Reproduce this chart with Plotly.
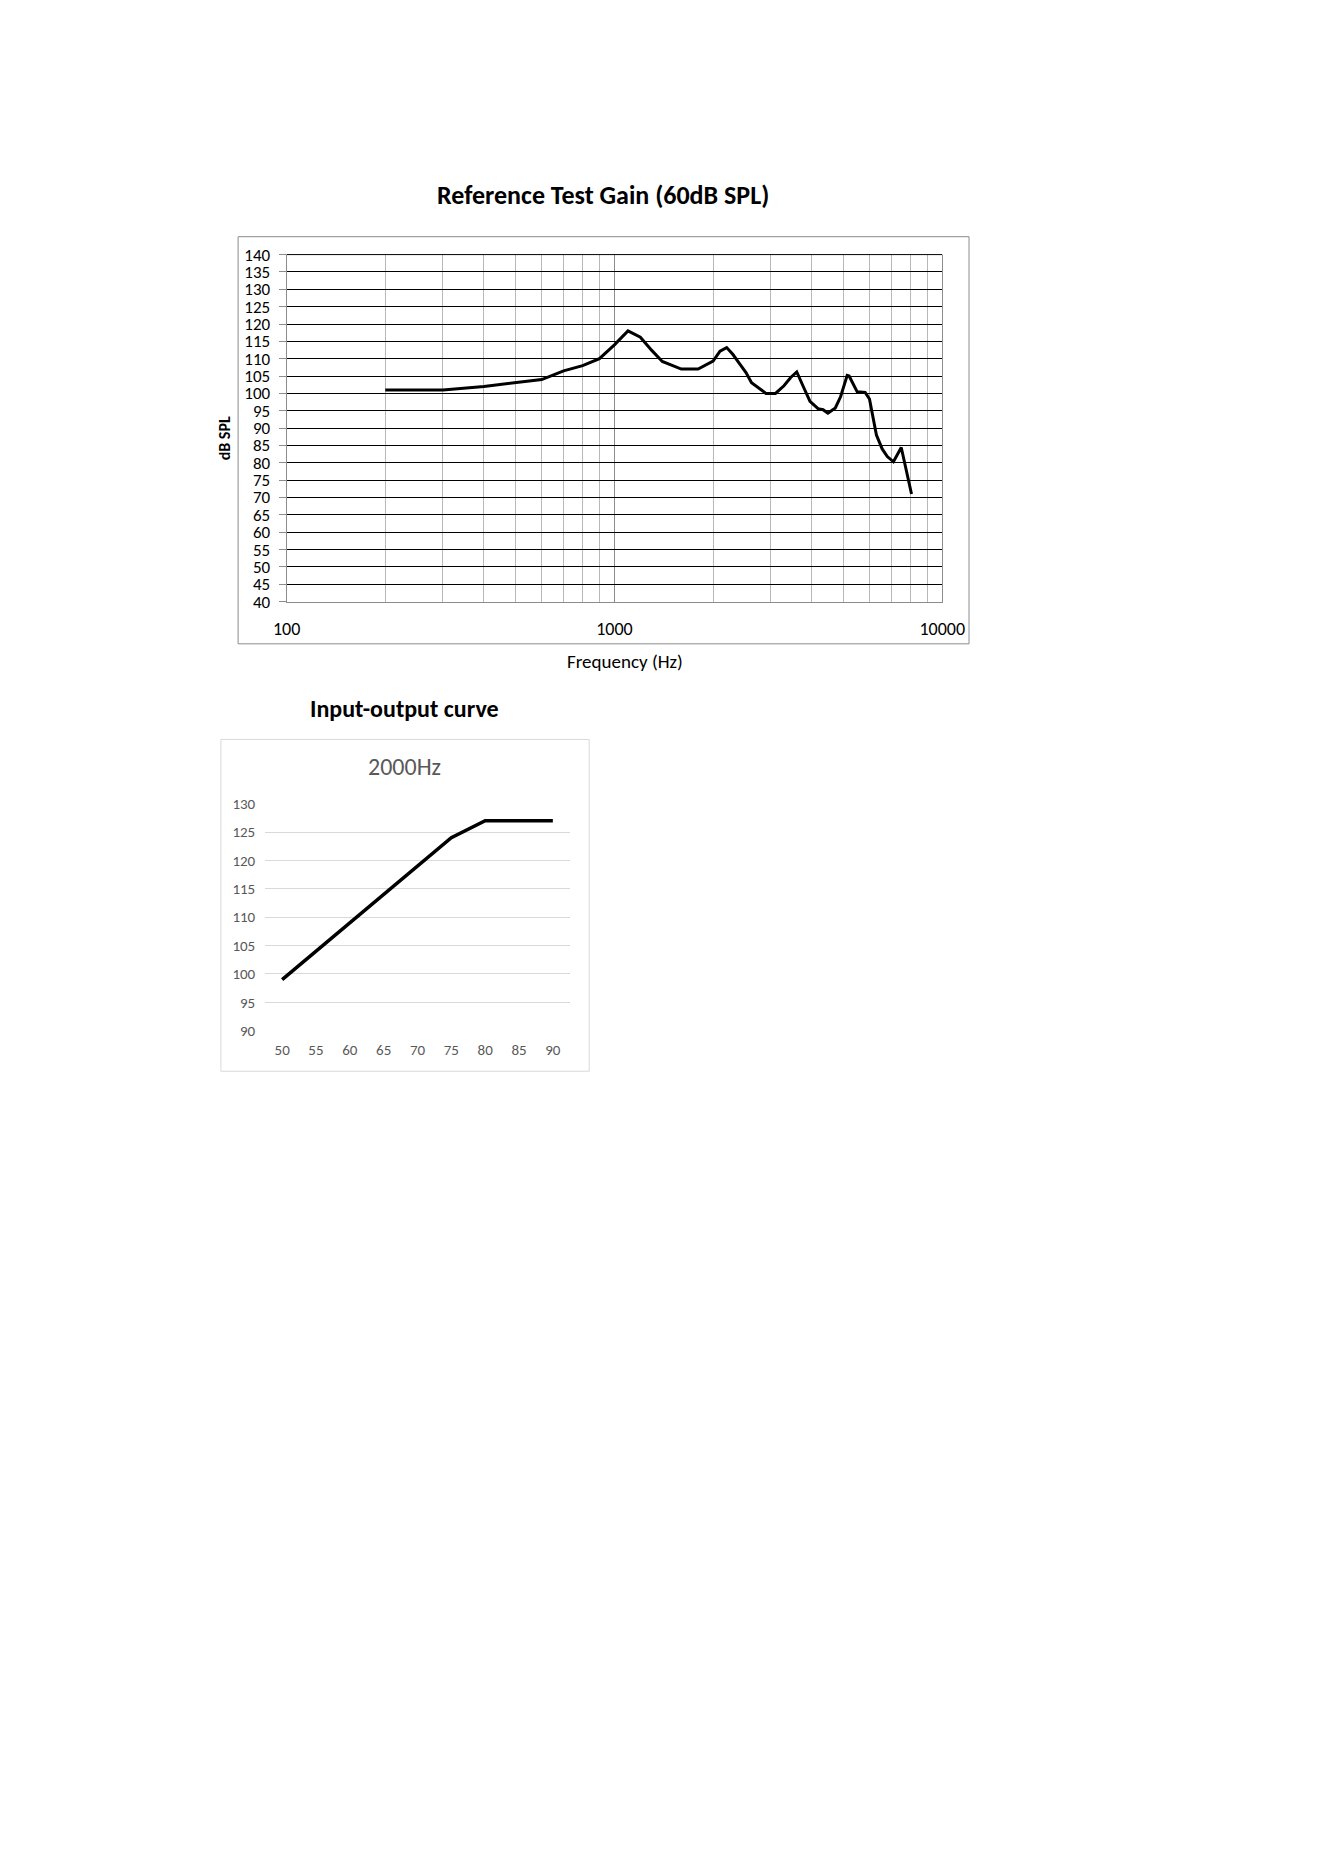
import plotly.graph_objects as go

# ---------------- data ----------------
freq_hz = [200, 300, 400, 500, 600, 700, 800, 900, 1000, 1100, 1200, 1300, 1400,
           1600, 1800, 2000, 2100, 2200, 2300, 2420, 2520, 2620, 2900, 3100, 3290,
           3450, 3600, 3780, 3950, 4180, 4330, 4480, 4720, 4900, 5130, 5200, 5500,
           5820, 6000, 6300, 6560, 6800, 7100, 7500, 8060]
gain_db = [101, 101, 102, 103, 104, 106.5, 108, 110, 114, 118, 116.2, 112.4, 109.2,
           107, 107, 109.3, 112.2, 113.2, 111.2, 108.3, 106, 103.1, 100, 100, 102.2,
           104.6, 106.2, 101.7, 97.7, 95.6, 95.3, 94.3, 95.8, 99.1, 105.2, 105, 100.5,
           100.3, 98.4, 88, 84, 81.8, 80.3, 84.4, 71]

freq_ticks = [100, 1000, 10000]
freq_minor = [200, 300, 400, 500, 600, 700, 800, 900,
              2000, 3000, 4000, 5000, 6000, 7000, 8000, 9000]

input_db = [50, 55, 60, 65, 70, 75, 80, 85, 90]
output_db = [99, 104, 109, 114, 119, 124, 127, 127, 127]

# page is 1324x1872; the page body keeps an 8px margin
PAGE_W, PAGE_H, OFF = 1324, 1872, 8
W, H = PAGE_W - 2 * OFF, PAGE_H - 2 * OFF


def px(x):
    return (x - OFF) / W


def py(y):
    return 1 - (y - OFF) / H


FONT = "Carlito, Lato, 'Liberation Sans', sans-serif"

fig = go.Figure()

fig.add_trace(go.Scatter(x=freq_hz, y=gain_db, mode="lines",
                         line=dict(color="black", width=3),
                         xaxis="x", yaxis="y", showlegend=False))

fig.add_trace(go.Scatter(x=input_db, y=output_db, mode="lines",
                         line=dict(color="black", width=3.5),
                         xaxis="x2", yaxis="y2", showlegend=False))

fig.update_layout(
    width=W, height=H,
    margin=dict(l=0, r=0, t=0, b=0),
    paper_bgcolor="white", plot_bgcolor="white",
    font=dict(family=FONT, color="black"),
    xaxis=dict(
        type="log", range=[2, 4], domain=[px(280.3), px(955)],
        anchor="y",
        tickvals=freq_ticks, ticktext=[str(v) for v in freq_ticks],
        showgrid=True, gridcolor="#8c8c8c", gridwidth=1,
        minor=dict(tickvals=freq_minor, showgrid=True, gridcolor="#b8b8b8",
                   gridwidth=1, ticks=""),
        ticks="", showline=True, linecolor="#8c8c8c", linewidth=1,
        tickfont=dict(size=18, color="black"),
        ticklabelstandoff=11,
        zeroline=False,
    ),
    yaxis=dict(
        range=[40, 140], domain=[py(598.3), py(247.3)],
        anchor="x",
        dtick=5, tick0=40,
        showgrid=True, gridcolor="black", gridwidth=1,
        ticks="outside", ticklen=7, tickcolor="#8c8c8c",
        showline=True, linecolor="#8c8c8c", linewidth=1, mirror=True,
        tickfont=dict(size=17, color="black"),
        ticklabelstandoff=5,
        zeroline=False,
    ),
    xaxis2=dict(
        range=[47.5, 92.5], domain=[px(258.3), px(571.7)],
        anchor="y2",
        tickvals=input_db, ticktext=[str(v) for v in input_db],
        showgrid=False, ticks="", showline=False, zeroline=False,
        tickfont=dict(size=15, color="#595959"),
        ticklabelstandoff=8,
    ),
    yaxis2=dict(
        range=[90, 130], domain=[py(1032.3), py(802.7)],
        anchor="x2",
        dtick=5, tick0=90,
        showgrid=True, gridcolor="#d9d9d9", gridwidth=1,
        ticks="", showline=False, zeroline=False,
        tickfont=dict(size=15, color="#595959"),
        ticklabelstandoff=9,
    ),
    shapes=[
        # top frame line of the upper plot area (black like the horizontal grid)
        dict(type="line", xref="x domain", yref="y domain",
             x0=0, x1=1, y0=1, y1=1, line=dict(color="black", width=1)),
        dict(type="rect", xref="paper", yref="paper",
             x0=px(230.4), x1=px(982.6), y0=py(641), y1=py(229.2),
             line=dict(color="#8c8c8c", width=1), fillcolor="rgba(0,0,0,0)"),
        dict(type="rect", xref="paper", yref="paper",
             x0=px(212.7), x1=px(591.7), y0=py(1073.3), y1=py(737.7),
             line=dict(color="#d9d9d9", width=1), fillcolor="rgba(0,0,0,0)"),
    ],
    annotations=[
        dict(text="<b>Reference Test Gain (60dB SPL)</b>", xref="paper", yref="paper",
             x=px(606), y=py(187), xanchor="center", yanchor="middle",
             showarrow=False, font=dict(size=26, color="black", family=FONT)),
        dict(text="Frequency (Hz)", xref="paper", yref="paper",
             x=px(629), y=py(659), xanchor="center", yanchor="middle",
             showarrow=False, font=dict(size=19, color="black", family=FONT)),
        dict(text="<b>dB SPL</b>", xref="paper", yref="paper",
             x=px(216), y=py(433), xanchor="center", yanchor="middle",
             textangle=-90,
             showarrow=False, font=dict(size=16, color="black", family=FONT)),
        dict(text="<b>Input-output curve</b>", xref="paper", yref="paper",
             x=px(402), y=py(706), xanchor="center", yanchor="middle",
             showarrow=False, font=dict(size=24, color="black", family=FONT)),
        dict(text="2000Hz", xref="paper", yref="paper",
             x=px(402), y=py(765), xanchor="center", yanchor="middle",
             showarrow=False, font=dict(size=24, color="#595959", family=FONT)),
    ],
)

fig.write_html("out.html", config={"displayModeBar": False})
